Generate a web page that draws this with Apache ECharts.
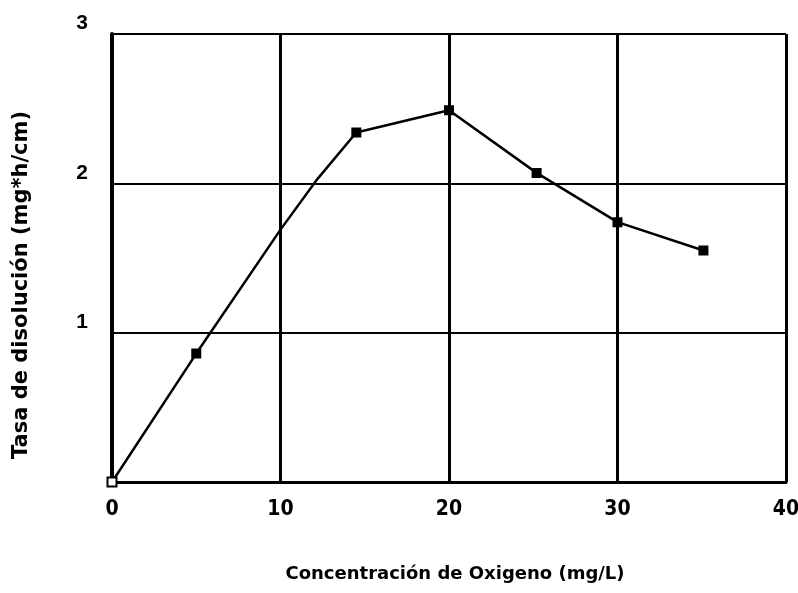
<!DOCTYPE html>
<html>
<head>
<meta charset="utf-8">
<script src="https://cdn.jsdelivr.net/npm/echarts@6/dist/echarts.min.js"></script>
<style>
  html, body { margin: 0; padding: 0; background: #fff; }
  #chart { width: 798px; height: 593px; }
</style>
</head>
<body>
<div id="chart"></div>
<script>
// Dissolution rate vs. oxygen concentration
const oxygen = [0, 5, 10, 12.2, 14.5, 20, 25.2, 30, 35.1];
const rate = [0, 0.86, 1.69, 2.03, 2.34, 2.49, 2.07, 1.74, 1.55];
const xTicks = [0, 10, 20, 30, 40];
const yTicks = [1, 2, 3];

const xTitle = 'Concentración de Oxigeno (mg/L)';
const yTitle = 'Tasa de disolución (mg*h/cm)';

// Measured points carry square markers; the origin is hollow,
// the two intermediate points on the rising slope are plain line vertices.
const plainVertices = [2, 3];
const seriesData = oxygen.map((x, i) => {
  const item = { value: [x, rate[i]] };
  if (i === 0) {
    item.symbol = 'emptyRect';
    item.symbolSize = 9;
  } else if (plainVertices.includes(i)) {
    item.symbol = 'none';
  }
  return item;
});

const titleFont = 'DejaVu Sans';
const narrowFont = '"Liberation Sans Narrow", "DejaVu Sans Condensed", "Liberation Sans", sans-serif';
const chart = echarts.init(document.getElementById('chart'), null, { renderer: 'canvas' });
chart.setOption({
  animation: false,
  backgroundColor: '#ffffff',
  grid: {
    left: 112, right: 12, top: 34, bottom: 111,
    containLabel: false,
    outerBoundsMode: 'none'
  },
  graphic: [
    {
      type: 'text',
      x: 455,
      y: 574,
      style: {
        text: xTitle,
        fill: '#000',
        fontFamily: titleFont,
        fontWeight: 'bold',
        fontSize: 18,
        align: 'center',
        verticalAlign: 'middle'
      }
    },
    {
      type: 'text',
      x: 22,
      y: 285,
      rotation: Math.PI / 2,
      style: {
        text: yTitle,
        fill: '#000',
        fontFamily: titleFont,
        fontWeight: 'bold',
        fontSize: 21,
        align: 'center',
        verticalAlign: 'middle'
      }
    }
  ],
  xAxis: {
    type: 'value',
    min: 0,
    max: 40,
    interval: 10,
    axisLine: { show: true, lineStyle: { color: '#000', width: 3 } },
    axisTick: { show: false },
    axisLabel: {
      color: '#000', fontFamily: narrowFont, fontWeight: 'bold', fontSize: 21, margin: 17,
      formatter: v => xTicks.includes(v) ? String(v) : ''
    },
    splitLine: { show: true, lineStyle: { color: '#000', width: 3 } }
  },
  yAxis: {
    type: 'value',
    min: 0,
    max: 3,
    interval: 1,
    axisLine: { show: true, lineStyle: { color: '#000', width: 4 } },
    axisTick: { show: false },
    axisLabel: {
      color: '#000', fontFamily: 'Liberation Sans', fontWeight: 'bold', fontSize: 21, margin: 24,
      verticalAlign: 'bottom',
      formatter: v => yTicks.includes(v) ? String(v) : ''
    },
    splitLine: { show: true, lineStyle: { color: '#000', width: 2 } }
  },
  series: [{
    type: 'line',
    data: seriesData,
    symbol: 'rect',
    symbolSize: 8,
    showAllSymbol: true,
    lineStyle: { color: '#000', width: 2.5 },
    itemStyle: { color: '#000', borderColor: '#000', borderWidth: 2 },
    z: 5
  }]
});
</script>
</body>
</html>
